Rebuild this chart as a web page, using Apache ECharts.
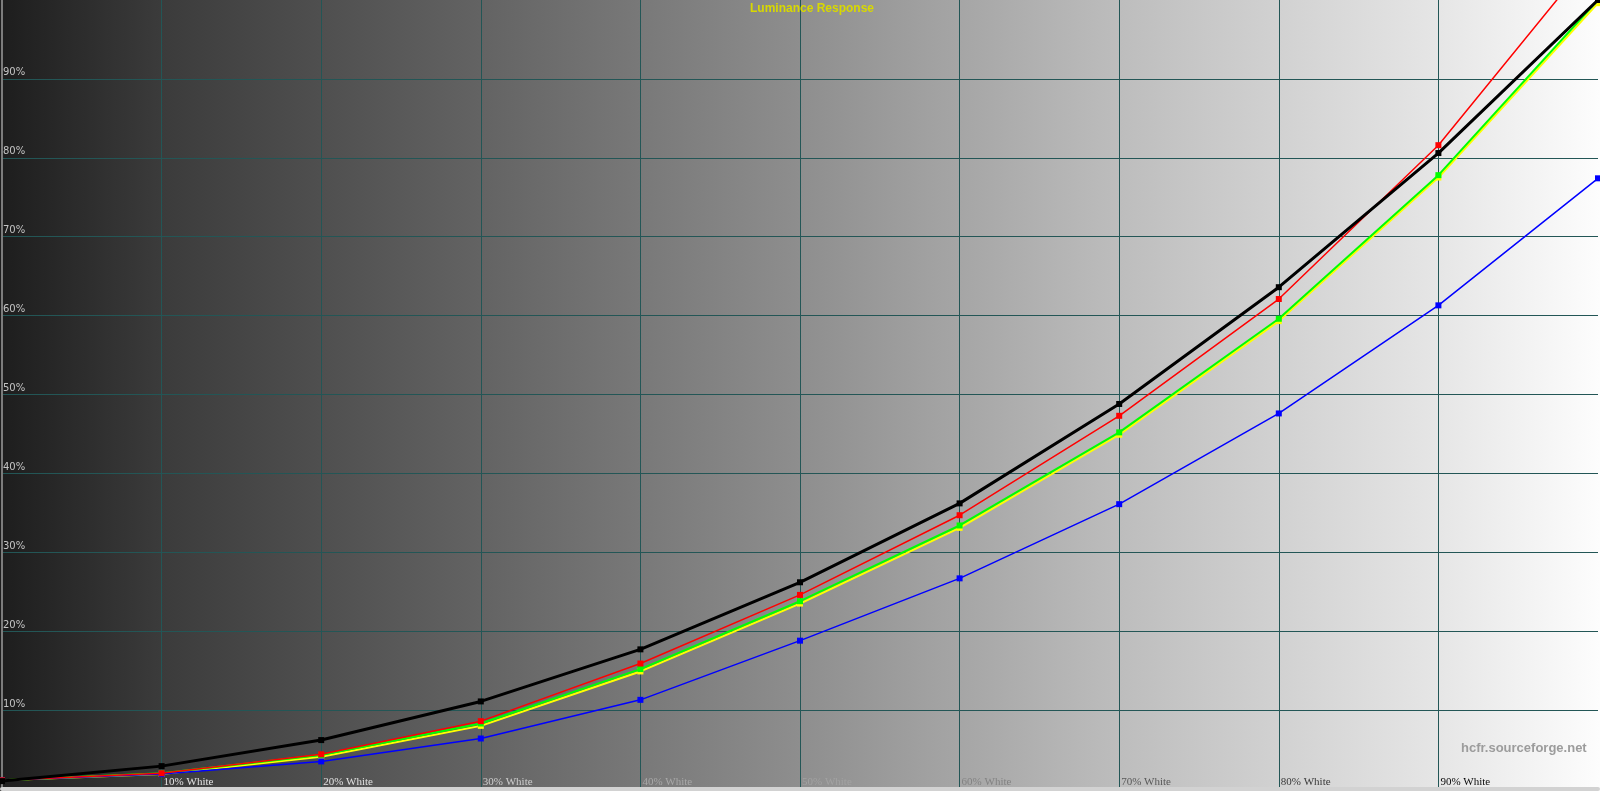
<!DOCTYPE html>
<html>
<head>
<meta charset="utf-8">
<script src="https://cdn.jsdelivr.net/npm/echarts@6/dist/echarts.min.js"></script>
<style>
  html, body { margin: 0; padding: 0; background: #d0d0d0; }
  #chart { width: 1600px; height: 791px; }
</style>
</head>
<body>
<div id="chart"></div>
<script>
// ---- data ----
const stimulus = [0, 10, 20, 30, 40, 50, 60, 70, 80, 90, 100];
const xTickLabels = ['', '10% White', '20% White', '30% White', '40% White', '50% White', '60% White', '70% White', '80% White', '90% White', ''];
const yTickLabels = ['', '10%', '20%', '30%', '40%', '50%', '60%', '70%', '80%', '90%', ''];
const referenceY = [1.0, 2.9, 6.2, 11.1, 17.7, 26.2, 36.2, 48.8, 63.6, 80.6, 100.0];
const redY      = [1.1, 2.0, 4.4, 8.6, 15.9, 24.6, 34.7, 47.3, 62.1, 81.6, 106.4];
const greenY    = [1.1, 2.0, 4.3, 8.3, 15.2, 23.8, 33.4, 45.2, 59.6, 77.8, 100.0];
const yellowY   = [1.1, 1.9, 4.1, 8.0, 14.9, 23.5, 33.1, 44.9, 59.3, 77.5, 99.6];
const blueY     = [1.1, 1.9, 3.5, 6.4, 11.3, 18.8, 26.7, 36.1, 47.6, 61.3, 77.4];

const titleText = 'Luminance Response';
const watermarkText = 'hcfr.sourceforge.net';

// ---- chart ----
const xLabelColors = ['#ffffff', '#e4e4e4', '#e0e0e0', '#cfcfcf', '#a8a8a8', '#a2a2a2', '#828282', '#585858', '#383838', '#0a0a0a', '#000000'];

function pairs(ys) { return stimulus.map((x, i) => [x, ys[i]]); }

const chart = echarts.init(document.getElementById('chart'), null, { renderer: 'canvas' });

function lineSeries(name, ys, color, width, z) {
  return {
    name: name,
    type: 'line',
    data: pairs(ys),
    symbol: 'rect',
    symbolSize: 6,
    showSymbol: true,
    clip: true,
    z: z,
    animation: false,
    lineStyle: { color: color, width: width },
    itemStyle: { color: color },
    emphasis: { disabled: true }
  };
}

chart.setOption({
  animation: false,
  backgroundColor: new echarts.graphic.LinearGradient(0, 0, 1, 0, [
    { offset: 0, color: '#1d1d1d' },
    { offset: 0.1, color: '#3b3b3b' },
    { offset: 0.3, color: '#636363' },
    { offset: 0.5, color: '#8e8e8e' },
    { offset: 0.7, color: '#bdbdbd' },
    { offset: 0.9, color: '#e6e6e6' },
    { offset: 1, color: '#fdfdfd' }
  ]),
  title: [
    {
      text: titleText,
      left: 750,
      top: 3,
      padding: 0,
      textStyle: { color: '#d8d800', fontFamily: 'Liberation Sans', fontWeight: 'bold', fontSize: 12 }
    },
    {
      text: watermarkText,
      left: 1461,
      top: 742,
      padding: 0,
      textStyle: { color: '#9c9c9c', fontFamily: 'Liberation Sans', fontWeight: 'bold', fontSize: 13 }
    }
  ],
  grid: { left: 2, right: 2, top: 0, bottom: 2, containLabel: false },
  xAxis: {
    type: 'value',
    min: 0,
    max: 100,
    interval: 10,
    axisLine: { show: true, onZero: false, lineStyle: { color: '#d2d2d2', width: 4 } },
    axisTick: { show: false },
    splitLine: { show: true, showMaxLine: false, lineStyle: { color: '#235656', width: 1 } },
    axisLabel: {
      inside: true,
      margin: 7,
      align: 'left',
      verticalAlign: 'middle',
      padding: [0, 0, 0, 2],
      fontFamily: 'Liberation Serif',
      fontSize: 11,
      showMinLabel: false,
      showMaxLabel: false,
      color: function (v) { return xLabelColors[Math.round(v / 10)]; },
      formatter: function (v) { return xTickLabels[Math.round(v / 10)]; }
    }
  },
  yAxis: {
    type: 'value',
    min: 0,
    max: 100,
    interval: 10,
    axisLine: { show: true, lineStyle: { color: '#7c7c7c', width: 2 } },
    axisTick: { show: false },
    splitLine: { show: true, showMinLine: false, showMaxLine: false, lineStyle: { color: '#235656', width: 1 } },
    axisLabel: {
      inside: true,
      margin: 1,
      align: 'left',
      verticalAlign: 'bottom',
      padding: [0, 0, 1, 0],
      fontFamily: 'DejaVu Sans',
      fontSize: 10,
      color: '#c4c4c4',
      showMinLabel: false,
      showMaxLabel: false,
      formatter: function (v) { return yTickLabels[Math.round(v / 10)]; }
    }
  },
  series: [
    lineSeries('Y', yellowY, '#ffff00', 2, 2),
    lineSeries('Green', greenY, '#00ff00', 2, 3),
    lineSeries('Blue', blueY, '#0000ff', 1.5, 4),
    lineSeries('Red', redY, '#ff0000', 1.5, 5),
    lineSeries('Reference', referenceY, '#000000', 3, 6)
  ]
});
</script>
</body>
</html>
